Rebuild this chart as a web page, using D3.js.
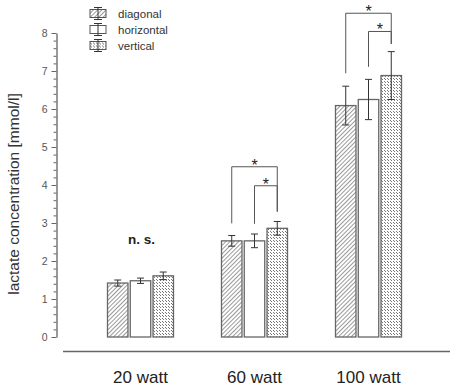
<!DOCTYPE html>
<html>
<head>
<meta charset="utf-8">
<script src="https://cdn.jsdelivr.net/npm/d3@7"></script>
<style>
  body { margin: 0; background: #fff; }
  text { font-family: Arial, "Liberation Sans", sans-serif; }
</style>
</head>
<body>
<div id="wrapper"></div>
<script>
// dados
const categories = ["20 watt", "60 watt", "100 watt"];
const series = ["diagonal", "horizontal", "vertical"];
const meanDiagonal = [1.42, 2.53, 6.09];
const meanHorizontal = [1.48, 2.53, 6.25];
const meanVertical = [1.61, 2.86, 6.88];
const errDiagonal = [0.08, 0.14, 0.51];
const errHorizontal = [0.07, 0.18, 0.53];
const errVertical = [0.10, 0.18, 0.63];
const yTicks = [0, 1, 2, 3, 4, 5, 6, 7, 8];

// colchetes de significancia: categoria, barras ligadas, altura e fim das pernas
const brackets = [
  { cat: "60 watt", from: "diagonal", to: "vertical", top: 4.48, leftEnd: 2.99, rightEnd: 3.30 },
  { cat: "60 watt", from: "horizontal", to: "vertical", top: 3.98, leftEnd: 2.98, rightEnd: 3.30 },
  { cat: "100 watt", from: "diagonal", to: "vertical", top: 8.52, leftEnd: 6.94, rightEnd: 7.71 },
  { cat: "100 watt", from: "horizontal", to: "vertical", top: 8.04, leftEnd: 7.11, rightEnd: 7.71 }
];
const nsLabel = { cat: "20 watt", value: 2.5, text: "n. s." };

const means = { diagonal: meanDiagonal, horizontal: meanHorizontal, vertical: meanVertical };
const errs = { diagonal: errDiagonal, horizontal: errHorizontal, vertical: errVertical };

const data = [];
categories.forEach((c, i) => {
  series.forEach(s => {
    data.push({ cat: c, serie: s, value: means[s][i], err: errs[s][i] });
  });
});

const width = 450, height = 386;
const svg = d3.select("#wrapper").append("svg")
  .attr("width", width)
  .attr("height", height);

// padroes de preenchimento
const defs = svg.append("defs");
const diag = defs.append("pattern")
  .attr("id", "pat-diagonal")
  .attr("patternUnits", "userSpaceOnUse")
  .attr("width", 3).attr("height", 3)
  .attr("patternTransform", "rotate(45)");
diag.append("rect").attr("width", 3).attr("height", 3).attr("fill", "#fff");
diag.append("line")
  .attr("x1", 0).attr("y1", 0).attr("x2", 0).attr("y2", 3)
  .attr("stroke", "#555").attr("stroke-width", 1.2);

// pontinhos em pares "\" alternados
const vert = defs.append("pattern")
  .attr("id", "pat-vertical")
  .attr("patternUnits", "userSpaceOnUse")
  .attr("width", 6).attr("height", 6);
vert.append("rect").attr("width", 6).attr("height", 6).attr("fill", "#fff");
[[0, 0], [1, 1], [3, 3], [4, 4], [3, 0], [4, 1], [0, 3], [1, 4]].forEach(p => {
  vert.append("rect")
    .attr("x", p[0]).attr("y", p[1])
    .attr("width", 1).attr("height", 1)
    .attr("fill", "#777");
});

const fills = { diagonal: "url(#pat-diagonal)", horizontal: "#fff", vertical: "url(#pat-vertical)" };

// escalas
const y = d3.scaleLinear().domain([0, 8]).range([337, 33]);
const x = d3.scalePoint().domain(categories).range([140.5, 368.5]);
const xInner = d3.scaleBand().domain(series).range([-33, 33]).paddingInner(0.1);
const barCenter = (c, s) => x(c) + xInner(s) + xInner.bandwidth() / 2;

// eixo y
const axis = svg.append("g")
  .attr("transform", "translate(56.5,0)")
  .call(d3.axisLeft(y).tickValues(yTicks).tickSize(5).tickSizeOuter(0).tickPadding(4));
axis.select(".domain").attr("stroke", "#777").attr("stroke-width", 1.5);
axis.selectAll(".tick line").attr("stroke", "#666");
axis.selectAll(".tick text")
  .attr("fill", "#555")
  .style("font-size", "10.5px")
  .style("font-family", "Arial, 'Liberation Sans', sans-serif");

const minor = d3.range(0, 8.01, 0.2).filter(v => Math.abs(v - Math.round(v)) > 0.01);
svg.append("g")
  .attr("transform", "translate(56.5,0)")
  .call(d3.axisLeft(y).tickValues(minor).tickSize(3).tickFormat(""))
  .call(g => g.select(".domain").remove())
  .selectAll(".tick line").attr("stroke", "#666");

svg.append("text")
  .attr("transform", "translate(18.5,194) rotate(-90)")
  .attr("text-anchor", "middle")
  .attr("fill", "#333")
  .style("font-size", "15.5px")
  .text("lactate concentration [mmol/l]");

// linha de base e categorias
svg.append("line")
  .attr("x1", 63).attr("x2", 450)
  .attr("y1", 351.5).attr("y2", 351.5)
  .attr("stroke", "#666").attr("stroke-width", 1.3);

svg.append("g")
  .selectAll("text")
  .data(categories)
  .enter()
  .append("text")
  .attr("x", d => x(d))
  .attr("y", 383)
  .attr("text-anchor", "middle")
  .attr("fill", "#222")
  .style("font-size", "17px")
  .text(d => d);

// barras
svg.append("g")
  .selectAll("rect")
  .data(data)
  .enter()
  .append("rect")
  .attr("x", d => x(d.cat) + xInner(d.serie))
  .attr("width", xInner.bandwidth())
  .attr("y", d => y(d.value))
  .attr("height", d => y(0) - y(d.value))
  .attr("fill", d => fills[d.serie])
  .attr("stroke", "#666")
  .attr("stroke-width", 1.3);

// barras de erro
const eb = svg.append("g").attr("stroke", "#333").attr("stroke-width", 1);
eb.selectAll("line.v")
  .data(data)
  .enter()
  .append("line")
  .attr("class", "v")
  .attr("x1", d => barCenter(d.cat, d.serie))
  .attr("x2", d => barCenter(d.cat, d.serie))
  .attr("y1", d => y(d.value + d.err))
  .attr("y2", d => y(d.value - d.err));
[1, -1].forEach(sign => {
  eb.selectAll("line.c" + (sign > 0 ? "t" : "b"))
    .data(data)
    .enter()
    .append("line")
    .attr("class", "c" + (sign > 0 ? "t" : "b"))
    .attr("x1", d => barCenter(d.cat, d.serie) - 3.5)
    .attr("x2", d => barCenter(d.cat, d.serie) + 3.5)
    .attr("y1", d => y(d.value + sign * d.err))
    .attr("y2", d => y(d.value + sign * d.err));
});

// colchetes de significancia
const br = svg.append("g");
br.selectAll("path")
  .data(brackets)
  .enter()
  .append("path")
  .attr("d", d => {
    const x1 = barCenter(d.cat, d.from), x2 = barCenter(d.cat, d.to);
    return "M" + x1 + "," + y(d.leftEnd) + "V" + y(d.top) + "H" + x2 + "V" + y(d.rightEnd);
  })
  .attr("fill", "none")
  .attr("stroke", "#555")
  .attr("stroke-width", 1);
br.selectAll("text")
  .data(brackets)
  .enter()
  .append("text")
  .attr("x", d => (barCenter(d.cat, d.from) + barCenter(d.cat, d.to)) / 2)
  .attr("y", d => y(d.top) + 4)
  .attr("text-anchor", "middle")
  .attr("fill", "#222")
  .style("font-size", "16px")
  .text("*");

svg.append("text")
  .attr("x", x(nsLabel.cat) + 1)
  .attr("y", y(nsLabel.value) + 1.5)
  .attr("text-anchor", "middle")
  .attr("fill", "#222")
  .style("font-size", "13.5px")
  .style("font-weight", "bold")
  .text(nsLabel.text);

// legenda
const legend = svg.append("g")
  .selectAll("g")
  .data(series)
  .enter()
  .append("g")
  .attr("transform", (d, i) => "translate(0," + (13.5 + i * 16) + ")");
legend.append("rect")
  .attr("x", 90).attr("y", -4)
  .attr("width", 16).attr("height", 8)
  .attr("fill", d => fills[d])
  .attr("stroke", "#555");
legend.append("path")
  .attr("d", "M94,-6H102M98,-6V6M94,6H102")
  .attr("stroke", "#333")
  .attr("fill", "none");
legend.append("text")
  .attr("x", 118)
  .attr("y", 4)
  .attr("fill", "#333")
  .style("font-size", "11.5px")
  .text(d => d);
</script>
</body>
</html>
